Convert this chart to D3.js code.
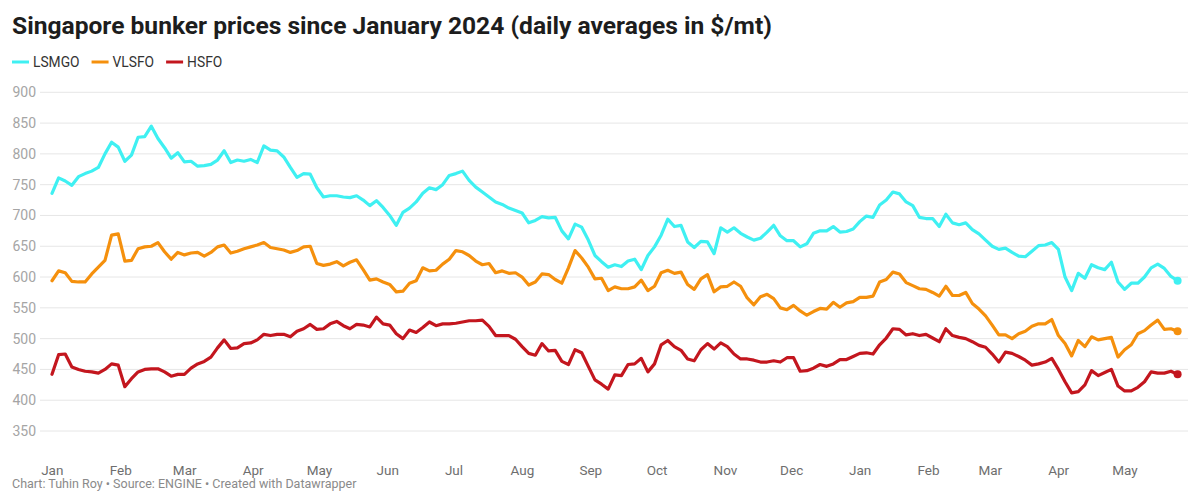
<!DOCTYPE html>
<html>
<head>
<meta charset="utf-8">
<script src="https://cdn.jsdelivr.net/npm/d3@7"></script>
<style>
  html, body { margin: 0; padding: 0; background: #fff; }
  body { width: 1200px; height: 502px; overflow: hidden; font-family: Roboto, "Noto Sans", sans-serif; }
</style>
</head>
<body>
<svg id="chart" width="1200" height="502"></svg>
<script>
const dates = [
"2024-01-02","2024-01-05","2024-01-08","2024-01-11","2024-01-14","2024-01-17","2024-01-20","2024-01-23","2024-01-26","2024-01-29",
"2024-02-01","2024-02-04","2024-02-07","2024-02-10","2024-02-13","2024-02-16","2024-02-19","2024-02-22","2024-02-25","2024-02-28",
"2024-03-02","2024-03-05","2024-03-08","2024-03-11","2024-03-14","2024-03-17","2024-03-20","2024-03-23","2024-03-26","2024-03-29",
"2024-04-01","2024-04-04","2024-04-07","2024-04-10","2024-04-13","2024-04-16","2024-04-19","2024-04-22","2024-04-25","2024-04-28",
"2024-05-01","2024-05-04","2024-05-07","2024-05-10","2024-05-13","2024-05-16","2024-05-19","2024-05-22","2024-05-25","2024-05-28","2024-05-31",
"2024-06-03","2024-06-06","2024-06-09","2024-06-12","2024-06-15","2024-06-18","2024-06-21","2024-06-24","2024-06-27","2024-06-30",
"2024-07-03","2024-07-06","2024-07-09","2024-07-12","2024-07-15","2024-07-18","2024-07-21","2024-07-24","2024-07-27","2024-07-30",
"2024-08-02","2024-08-05","2024-08-08","2024-08-11","2024-08-14","2024-08-17","2024-08-20","2024-08-23","2024-08-26","2024-08-29",
"2024-09-01","2024-09-04","2024-09-07","2024-09-10","2024-09-13","2024-09-16","2024-09-19","2024-09-22","2024-09-25","2024-09-28",
"2024-10-01","2024-10-04","2024-10-07","2024-10-10","2024-10-13","2024-10-16","2024-10-19","2024-10-22","2024-10-25","2024-10-28","2024-10-31",
"2024-11-03","2024-11-06","2024-11-09","2024-11-12","2024-11-15","2024-11-18","2024-11-21","2024-11-24","2024-11-27","2024-11-30",
"2024-12-03","2024-12-06","2024-12-09","2024-12-12","2024-12-15","2024-12-18","2024-12-21","2024-12-24","2024-12-27","2024-12-30",
"2025-01-02","2025-01-05","2025-01-08","2025-01-11","2025-01-14","2025-01-17","2025-01-20","2025-01-23","2025-01-26","2025-01-29",
"2025-02-01","2025-02-04","2025-02-07","2025-02-10","2025-02-13","2025-02-16","2025-02-19","2025-02-22","2025-02-25","2025-02-28",
"2025-03-03","2025-03-06","2025-03-09","2025-03-12","2025-03-15","2025-03-18","2025-03-21","2025-03-24","2025-03-27","2025-03-30",
"2025-04-02","2025-04-05","2025-04-08","2025-04-11","2025-04-14","2025-04-17","2025-04-20","2025-04-23","2025-04-26","2025-04-29",
"2025-05-02","2025-05-05","2025-05-08","2025-05-11","2025-05-14","2025-05-17","2025-05-20","2025-05-23","2025-05-26"
];

const lsmgo = [
736,761,756,749,763,768,772,778,800,819,
811,788,798,827,828,845,825,810,793,802,
787,788,780,781,783,790,805,786,790,788,
791,786,813,806,805,795,778,762,768,767,
745,730,732,732,730,729,732,725,716,724,713,
700,684,705,712,722,736,745,742,750,765,
768,772,757,746,738,730,722,718,712,708,
704,688,692,698,696,697,675,662,686,681,
660,635,625,616,620,617,626,629,612,635,
649,668,694,682,684,657,648,658,657,638,680,
673,680,671,665,660,663,673,684,667,659,
659,649,654,671,675,675,682,673,674,678,
690,699,697,717,725,738,735,722,716,697,
695,695,682,702,688,685,688,677,670,660,
650,645,647,640,634,633,642,651,652,656,
645,600,578,606,598,620,615,612,624,592,
580,590,590,600,615,621,614,601,594
];

const vlsfo = [
594,610,607,593,592,592,605,616,627,668,
670,626,627,646,649,650,656,641,629,640,
636,639,640,634,640,649,652,639,642,646,
649,652,656,648,646,644,640,643,649,650,
622,619,621,625,618,624,628,612,595,597,592,
588,576,577,590,594,615,610,611,621,629,
643,641,635,626,620,622,607,610,606,607,
600,587,592,605,604,596,590,615,643,631,
616,597,598,578,584,581,581,584,595,578,
585,607,611,606,608,588,580,597,604,576,584,
585,592,585,566,555,568,572,565,550,547,
554,545,538,544,549,548,559,551,558,560,
567,567,569,592,596,608,605,591,586,581,
580,575,569,585,570,570,575,557,548,537,
522,506,506,500,508,512,520,524,524,531,
505,492,472,497,487,503,498,500,502,470,
482,490,508,513,522,530,515,516,512
];

const hsfo = [
442,474,475,454,450,447,446,444,450,459,
457,422,435,446,450,451,451,446,439,442,
442,452,459,463,470,485,498,484,485,492,
493,498,507,505,507,507,503,512,516,523,
515,516,524,528,521,516,523,522,519,535,524,
522,508,500,514,510,518,527,521,524,524,
525,527,529,529,530,520,505,505,505,499,
487,476,473,492,480,481,463,458,482,477,
455,433,426,418,441,440,458,459,468,446,
459,490,497,487,481,467,464,482,492,483,493,
487,475,467,467,465,462,462,464,462,469,
469,447,448,452,458,455,459,466,466,471,
476,477,475,490,501,516,515,506,508,505,
507,501,495,516,505,502,500,495,489,486,
475,462,478,476,471,465,457,459,462,468,
450,430,412,414,425,448,440,445,450,423,
415,415,421,430,446,444,444,447,442
];

const seriesNames = ["LSMGO", "VLSFO", "HSFO"];
const seriesColors = ["#3ff0f2", "#f5900d", "#c3161e"];
const seriesValues = [lsmgo, vlsfo, hsfo];

const yTicks = [350, 400, 450, 500, 550, 600, 650, 700, 750, 800, 850, 900];
const monthTicks = ["2024-01-01","2024-02-01","2024-03-01","2024-04-01","2024-05-01","2024-06-01",
  "2024-07-01","2024-08-01","2024-09-01","2024-10-01","2024-11-01","2024-12-01",
  "2025-01-01","2025-02-01","2025-03-01","2025-04-01","2025-05-01"];

const parse = d3.timeParse("%Y-%m-%d");
const dateObjs = dates.map(parse);

const svg = d3.select("#chart");

// Title
svg.append("text")
  .attr("x", 12).attr("y", 34)
  .attr("font-family", "Roboto, sans-serif")
  .attr("font-weight", 700)
  .attr("font-size", 24.6)
  .attr("fill", "#1d1d1d")
  .text("Singapore bunker prices since January 2024 (daily averages in $/mt)");

// Legend
let lx = 12;
const legend = svg.append("g");
seriesNames.forEach((name, i) => {
  const g = legend.append("g");
  g.append("line")
    .attr("x1", lx).attr("x2", lx + 17)
    .attr("y1", 62).attr("y2", 62)
    .attr("stroke", seriesColors[i]).attr("stroke-width", 3);
  const t = g.append("text")
    .attr("x", lx + 21).attr("y", 66.8)
    .attr("font-family", "Roboto, sans-serif")
    .attr("font-size", 13.8)
    .attr("fill", "#333")
    .text(name);
  lx += 21 + t.node().getComputedTextLength() + 12;
});

const x = d3.scaleTime()
  .domain([parse("2024-01-02"), parse("2025-05-26")])
  .range([52, 1177.6]);
const y = d3.scaleLinear().domain([350, 900]).range([431, 92.3]);

// Grid
const grid = svg.append("g");
grid.selectAll("line").data(yTicks).join("line")
  .attr("x1", 40).attr("x2", 1188)
  .attr("y1", d => y(d)).attr("y2", d => y(d))
  .attr("stroke", "#e6e6e6").attr("stroke-width", 1);

// Y axis labels
const yAxis = d3.axisLeft(y).tickValues(yTicks).tickSize(0).tickPadding(0);
const yg = svg.append("g").attr("transform", "translate(36,0)").call(yAxis);
yg.select(".domain").remove();
yg.selectAll("text")
  .attr("font-family", "Roboto, sans-serif")
  .attr("font-size", 14)
  .attr("fill", "#a5a5a5");

// X axis
const xAxis = d3.axisBottom(x)
  .tickValues(monthTicks.map(parse))
  .tickFormat(d3.timeFormat("%b"))
  .tickSize(0).tickPadding(0);
const xg = svg.append("g").attr("transform", "translate(2,465)").call(xAxis);
xg.select(".domain").remove();
xg.selectAll("text")
  .attr("font-family", "Roboto, sans-serif")
  .attr("font-size", 13.5)
  .attr("fill", "#6e6e6e");

// Lines
const line = d3.line()
  .x((d, i) => x(dateObjs[i]))
  .y(d => y(d));

const lines = svg.append("g");
seriesValues.forEach((vals, i) => {
  lines.append("path")
    .datum(vals)
    .attr("fill", "none")
    .attr("stroke", seriesColors[i])
    .attr("stroke-width", 3.2)
    .attr("stroke-linejoin", "round")
    .attr("stroke-linecap", "round")
    .attr("d", line);
  const last = vals.length - 1;
  lines.append("circle")
    .attr("cx", x(dateObjs[last]))
    .attr("cy", y(vals[last]))
    .attr("r", 4)
    .attr("fill", seriesColors[i]);
});

// Footer
svg.append("text")
  .attr("x", 12).attr("y", 487.5)
  .attr("font-family", "Roboto, sans-serif")
  .attr("font-size", 12.5)
  .attr("fill", "#8a8a8a")
  .text("Chart: Tuhin Roy \u2022 Source: ENGINE \u2022 Created with Datawrapper");
</script>
</body>
</html>
